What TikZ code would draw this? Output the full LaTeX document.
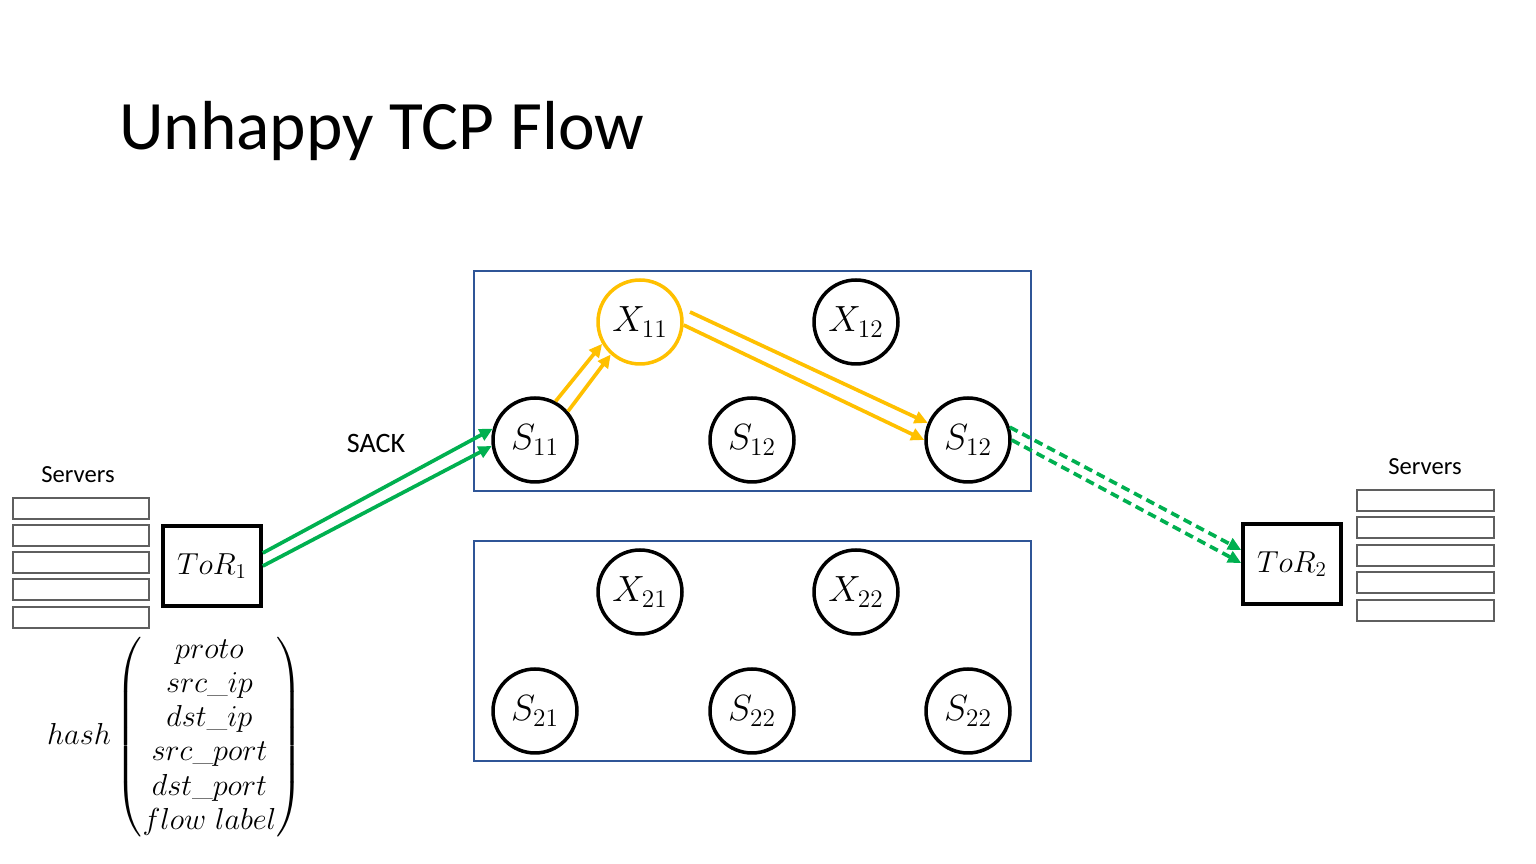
\documentclass[tikz,border=0pt]{standalone}
\usepackage{amsmath}
\usepackage{fontspec}
\setsansfont{Carlito}
\usetikzlibrary{arrows.meta,calc}

\definecolor{fabblue}{RGB}{47,85,151}
\definecolor{flowgreen}{RGB}{0,176,80}
\definecolor{flowyellow}{RGB}{255,192,0}
\definecolor{rackgray}{RGB}{95,95,95}

\begin{document}
\begin{tikzpicture}[x=0.02cm, y=-0.02cm,
  switch/.style={circle, draw, line width=2pt, minimum size=1.68cm, inner sep=0pt,
    font=\fontsize{21}{25}\selectfont},
  tor/.style={rectangle, draw, line width=2.1pt, minimum width=1.96cm, minimum height=1.6cm,
    font=\fontsize{17.5}{21}\selectfont},
  fabric/.style={draw=fabblue, line width=0.9pt},
  rack/.style={draw=rackgray, line width=1.1pt},
  sanslbl/.style={font=\sffamily\fontsize{14}{17}\selectfont},
  flow/.style={line width=2.1pt, -{Triangle[length=7.5pt,width=7pt]}},
]
  \useasboundingbox (0,0) rectangle (1536,864);

  \node[anchor=base west, font=\sffamily\fontsize{39.5}{47}\selectfont] (title) at (113,150) {Unhappy TCP Flow};

  % fabric planes
  \draw[fabric] (474,271) rectangle (1031,491);
  \draw[fabric] (474,541) rectangle (1031,761);

  \node[switch, draw=flowyellow] (x11) at (640,322) {$X_{11}$};
  \node[switch] (x12) at (856,322) {$X_{12}$};
  \node[switch] (s11) at (535,440) {$S_{11}$};
  \node[switch] (s12) at (752,440) {$S_{12}$};
  \node[switch] (s13) at (968,440) {$S_{12}$};

  \node[switch] (x21) at (640,592) {$X_{21}$};
  \node[switch] (x22) at (856,592) {$X_{22}$};
  \node[switch] (s21) at (535,711) {$S_{21}$};
  \node[switch] (s22) at (752,711) {$S_{22}$};
  \node[switch] (s23) at (968,711) {$S_{22}$};

  % racks
  \node[tor] (tor1) at (212,566) {$ToR_1$};
  \node[tor] (tor2) at (1292,564) {$ToR_2$};
  \node[sanslbl] (srv1) at (78,475) {Servers};
  \node[sanslbl] (srv2) at (1425,467) {Servers};
  \foreach \y in {498,525,552,579,607}
    \draw[rack] (13,\y) rectangle (149,\y+21);
  \foreach \y in {490,517,545,572,600}
    \draw[rack] (1357,\y) rectangle (1494,\y+21);

  \node[font=\fontsize{17}{19.5}\selectfont] (hash) at (175,737)
    {$hash\begin{pmatrix}proto\\src\_ip\\dst\_ip\\src\_port\\dst\_port\\flow\ label\end{pmatrix}$};

  \node[sanslbl, font=\sffamily\fontsize{16}{19}\selectfont] (sack) at (376,443) {SACK};

  % flow
  \draw[flow, flowgreen] ($(tor1.east)+(0,-13)$) -- (s11.165);
  \draw[flow, flowgreen] (tor1.east) -- (s11.188);
  \draw[flow, flowyellow] (s11.62) -- (x11.210);
  \draw[flow, flowyellow] (s11.41) -- (x11.228);
  \draw[flow, flowyellow] ($(x11)+(50,-10)$) -- (s13.157);
  \draw[flow, flowyellow] (x11.-4) -- (s13.180);
  \draw[flow, flowgreen, dash pattern=on 5pt off 3pt] (s13.17) -- ($(tor2.west)+(0,-14)$);
  \draw[flow, flowgreen, dash pattern=on 5pt off 3pt] (s13.0) -- ($(tor2.west)+(0,-1)$);
\end{tikzpicture}
\end{document}
